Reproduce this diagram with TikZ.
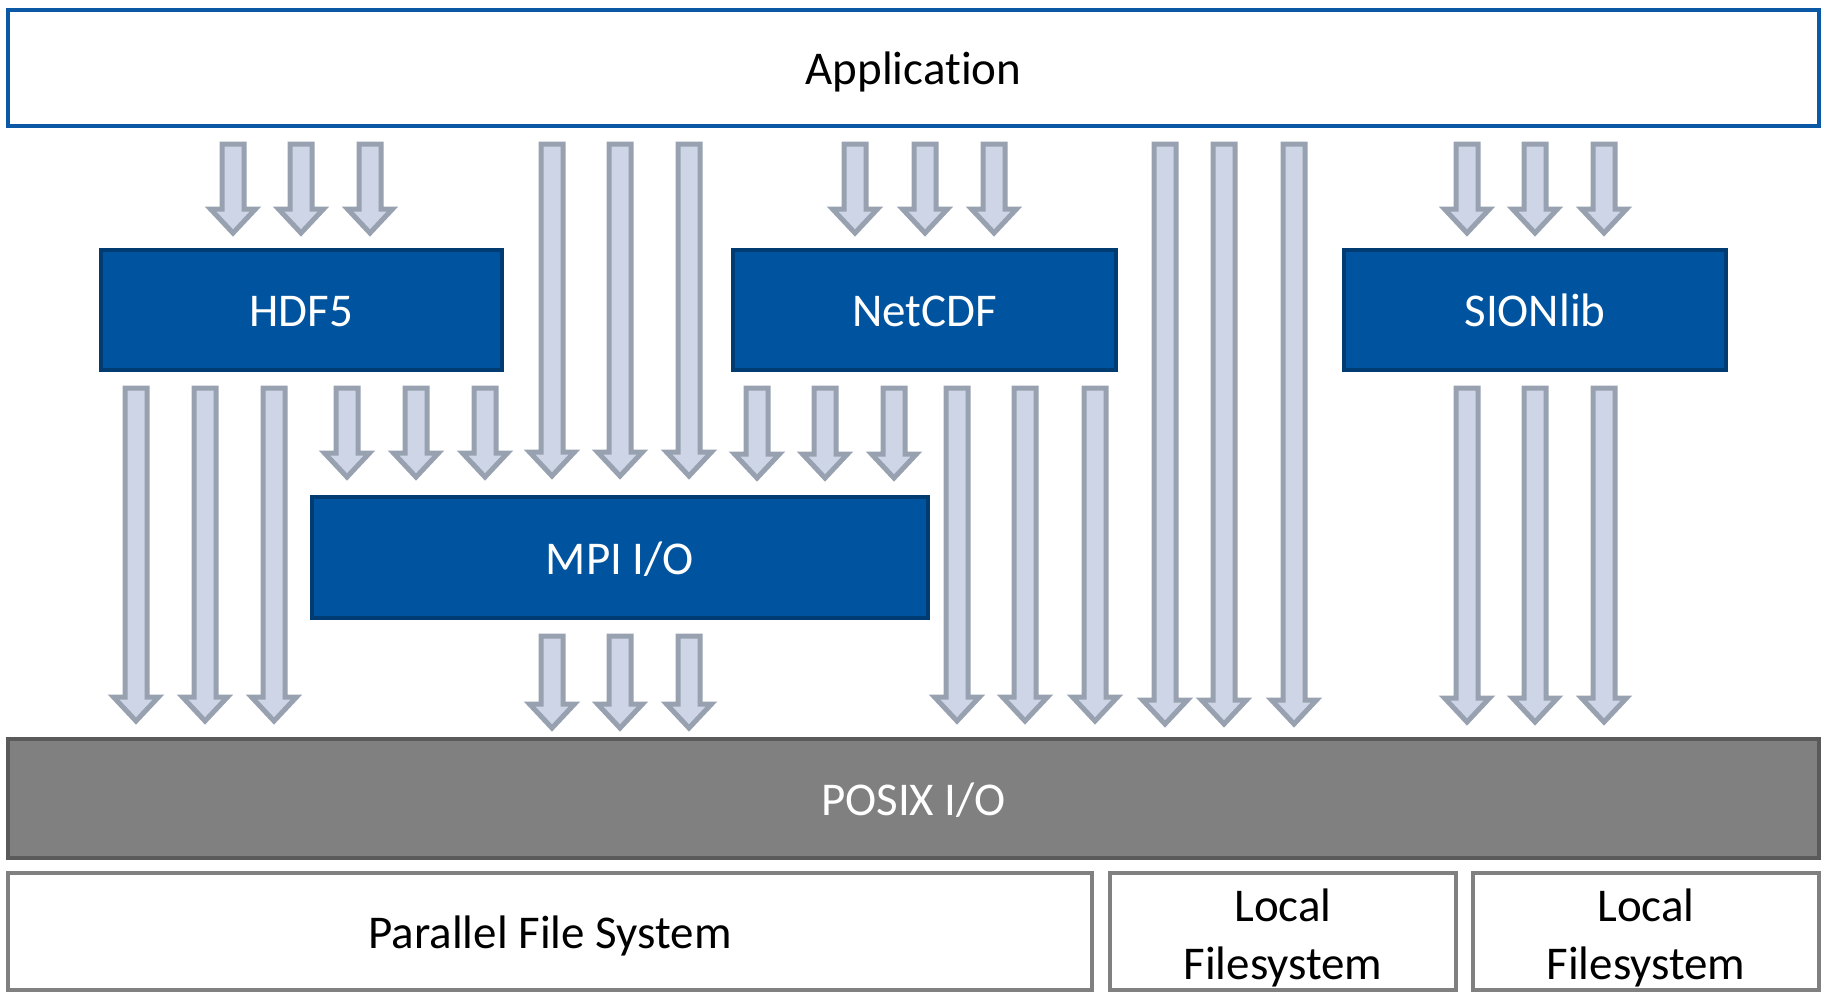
\documentclass[tikz,border=0pt]{standalone}
\usepackage{fontspec}
\setmainfont{Carlito}[Ligatures=NoCommon]
\usetikzlibrary{calc}
\definecolor{appblue}{HTML}{0B58A4}
\definecolor{boxblue}{HTML}{00549F}
\definecolor{boxedge}{HTML}{003B72}
\definecolor{arrfill}{HTML}{CDD5E6}
\definecolor{arrline}{HTML}{98A1B0}
\definecolor{posixfill}{HTML}{808080}
\definecolor{posixedge}{HTML}{5A5A5A}
\definecolor{fsedge}{HTML}{808080}
\begin{document}
\begin{tikzpicture}[x=1pt,y=-1pt,
  every node/.style={outer sep=0pt, inner sep=0pt, font=\fontsize{47}{58}\selectfont},
  oneline/.style={text height=35pt, text depth=1.5pt},
  layer/.style={oneline, draw=appblue, line width=4pt, fill=white},
  lib/.style={oneline, draw=boxedge, fill=boxblue, line width=4pt, text=white, minimum height=120pt},
  posixbox/.style={oneline, draw=posixedge, fill=posixfill, line width=4pt, text=white},
  fsbox/.style={draw=fsedge, line width=4pt, fill=white, minimum height=117pt},
  twolines/.style={label={[align=center, yshift=-6pt]center:#1}},
  fat/.style={draw=arrline, fill=arrfill, line width=5pt, line join=miter,
    to path={let \p1=(\tikztostart), \p2=(\tikztotarget) in
      (\x1-11pt,\y1-18pt) -- (\x1-11pt,\y2+#1+24pt) -- (\x1-22.5pt,\y2+#1+24pt)
      -- (\x1,\y2+#1) -- (\x1+22.5pt,\y2+#1+24pt) -- (\x1+11pt,\y2+#1+24pt)
      -- (\x1+11pt,\y1-18pt) -- cycle}},
  fat/.default=17pt]
\useasboundingbox (0,0) rectangle (1825,993);

% layers
\node[layer, minimum width=1811pt, minimum height=116pt] (app) at (913.5,68) {Application};
\node[lib, minimum width=401pt] (hdf) at (301.5,310) {HDF5};
\node[lib, minimum width=383pt] (ncdf) at (924.5,310) {NetCDF};
\node[lib, minimum width=382pt] (sion) at (1535,310) {SIONlib};
\node[lib, minimum width=616pt, minimum height=121pt] (mpi) at (620,557.5) {MPI I/O};
\node[posixbox, minimum width=1811pt, minimum height=119pt] (posix) at (913.5,798.5) {POSIX I/O};
\node[fsbox, oneline, minimum width=1084pt] (pfs) at (550,931.5) {Parallel File System};
\node[fsbox, minimum width=346pt, twolines={Local\\Filesystem}] (lfsa) at (1283,931.5) {};
\node[fsbox, minimum width=346pt, twolines={Local\\Filesystem}] (lfsb) at (1646,931.5) {};

% Application -> HDF5
\foreach \xx in {233,301,370}
  \path[fat] (app.south -| \xx,0) to (hdf.north -| \xx,0);
% Application -> MPI I/O
\foreach \xx in {552,620,689}
  \path[fat=21pt] (app.south -| \xx,0) to (mpi.north -| \xx,0);
% Application -> NetCDF
\foreach \xx in {855,925,994}
  \path[fat] (app.south -| \xx,0) to (ncdf.north -| \xx,0);
% Application -> POSIX
\foreach \xx in {1165,1224,1294}
  \path[fat=15pt] (app.south -| \xx,0) to (posix.north -| \xx,0);
% Application -> SIONlib
\foreach \xx in {1467,1535,1604}
  \path[fat] (app.south -| \xx,0) to (sion.north -| \xx,0);
% HDF5 -> POSIX
\foreach \xx in {136,205,274}
  \path[fat=18pt] (hdf.south -| \xx,0) to (posix.north -| \xx,0);
% HDF5 -> MPI I/O
\foreach \xx in {347,416,485}
  \path[fat=20pt] (hdf.south -| \xx,0) to (mpi.north -| \xx,0);
% NetCDF -> MPI I/O
\foreach \xx in {757,825,894}
  \path[fat=19pt] (ncdf.south -| \xx,0) to (mpi.north -| \xx,0);
% NetCDF -> POSIX
\foreach \xx in {957,1025,1095}
  \path[fat=18pt] (ncdf.south -| \xx,0) to (posix.north -| \xx,0);
% MPI I/O -> POSIX
\foreach \xx in {552,620,689}
  \path[fat=11pt] (mpi.south -| \xx,0) to (posix.north -| \xx,0);
% SIONlib -> POSIX
\foreach \xx in {1467,1535,1604}
  \path[fat=17pt] (sion.south -| \xx,0) to (posix.north -| \xx,0);
\end{tikzpicture}
\end{document}
